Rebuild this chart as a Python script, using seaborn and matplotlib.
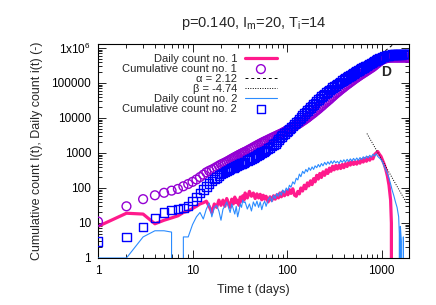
import matplotlib
matplotlib.use('Agg')
import matplotlib.pyplot as plt
import seaborn as sns
import numpy as np
from matplotlib.ticker import LogLocator, NullFormatter

# Values
first_days = list(range(1, 20))
mid_days = [20, 21, 22, 23, 24, 25, 26, 27, 28, 29, 30, 31, 32, 33, 34, 35, 36,
            38, 40, 42, 44, 46, 48, 50, 52, 54, 56, 58, 60,
            63, 66, 69, 72, 75, 78, 81, 84, 87, 90,
            94, 98, 102, 106, 110,
            115, 120, 125, 130, 135, 140,
            146, 152, 158, 164, 170,
            177, 184, 191, 198,
            206, 214, 222, 231, 240, 250, 260, 270, 281, 292, 303, 315, 328, 341, 355, 369, 384, 399,
            415, 432, 449, 467, 486, 505, 525, 546, 568, 591, 615, 640, 665, 692, 720, 749, 779,
            810, 842, 876, 911, 947, 985]
late_days = [1024, 1065, 1108, 1152, 1198, 1246, 1296, 1348, 1402, 1458, 1516, 1577, 1640,
             1706, 1774, 1845, 1919, 1950]

daily_1_days = first_days + mid_days + [1024, 1065, 1108, 1152, 1198, 1246, 1270, 1290]
daily_1 = [8, 19, 18, 9.5, 12, 14, 16, 20, 22, 26, 30, 35, 38, 42, 30, 20, 35, 28, 45,
           32, 45, 30, 50, 36, 28, 48, 35, 55, 38, 45, 32, 55, 42, 60, 45, 72,
           52, 80, 58, 72, 50, 68, 52, 66, 46, 62, 48, 58,
           40, 56, 44, 60, 48, 64, 52, 72, 56, 78,
           60, 82, 64, 90, 70,
           95, 62, 58, 80, 68, 100,
           82, 120, 95, 140, 115,
           160, 125, 185, 150,
           230, 180, 260, 200, 290, 230, 330, 260, 370, 300, 420, 330, 440, 350, 450, 360, 470, 380,
           500, 410, 540, 450, 580, 470, 560, 480, 600, 510, 650, 550, 700, 580, 740, 620, 760,
           680, 900, 1000, 1100, 920, 800,
           620, 480, 340, 220, 120, 45, 10, 0]

daily_2_days = first_days + mid_days + [1024, 1065, 1108, 1152, 1198, 1246, 1296, 1348, 1402,
                                        1458, 1516, 1540, 1560, 1580, 1620, 1660, 1700, 1730]
daily_2 = [1, 1, 4, 6, 6, 5.5, 0, 4, 4, 9, 15, 20, 13, 25, 37, 15, 28, 32, 22,
           12, 25, 30, 40, 28, 20, 35, 25, 18, 30, 15, 22, 35, 28, 45, 38, 40,
           25, 35, 22, 40, 30, 42, 28, 40, 24, 35, 42, 30,
           45, 56, 40, 62, 50, 70, 58, 75, 62, 88,
           72, 100, 85, 120, 105,
           150, 130, 190, 170, 250, 210,
           300, 260, 340, 290, 380,
           320, 400, 340, 430,
           380, 470, 400, 500, 430, 540, 460, 560, 480, 590, 500, 600, 520, 580, 500, 620, 540, 640,
           550, 660, 570, 680, 590, 700, 610, 720, 620, 740, 650, 780, 680, 820, 720, 860, 760,
           920, 820, 950, 800, 720, 650,
           550, 420, 330, 260, 190, 130, 85, 60, 40, 28, 15, 5, 0, 8, 3, 0, 4, 0]

cum_days = first_days + mid_days + late_days
cum_1 = [11, 30, 48, 62, 73, 84, 94, 112, 130, 150, 175, 205, 240, 280, 310, 335, 365, 400, 435,
         470, 500, 530, 565, 600, 640, 680, 720, 760, 800, 840, 880, 920, 960, 1000, 1040, 1080,
         1170, 1260, 1350, 1450, 1550, 1650, 1750, 1850, 1950, 2050, 2150, 2250,
         2400, 2550, 2700, 2850, 3000, 3150, 3300, 3450, 3600, 3800,
         4050, 4300, 4550, 4850, 5100,
         5500, 5900, 6300, 6700, 7100, 7600,
         8200, 8800, 9500, 10200, 11000,
         12000, 13000, 14000, 15200,
         16600, 18000, 19600, 21500, 23500, 26000, 28500, 31000, 34000, 37500,
         41000, 45000, 49500, 54000, 59000, 64500, 70000, 76000, 83000, 90000,
         97000, 105000, 114000, 123000, 133000, 143000, 154000, 166000, 178000, 191000,
         204000, 219000, 235000, 252000, 270000, 290000, 315000, 345000, 375000, 410000, 440000,
         470000, 490000, 505000, 517000, 525000, 530000, 532000, 532000, 532000, 532000, 532000,
         532000, 532000, 532000, 532000, 532000, 532000, 532000]
cum_2 = [3, 4, 7.7, 13.7, 20, 23.5, 25, 27, 31, 42, 55, 72, 90, 110, 135, 160, 180, 200, 225,
         250, 270, 290, 310, 330, 350, 370, 390, 410, 430, 450, 465, 480, 500, 520, 540, 560,
         610, 660, 705, 750, 800, 850, 905, 960, 1020, 1080, 1150, 1220,
         1330, 1450, 1600, 1750, 1900, 2150, 2400, 2700, 3000, 3300,
         3650, 4000, 4400, 4850, 5300,
         5950, 6650, 7350, 8250, 9250, 10400,
         11800, 13300, 14800, 16300, 17900,
         19800, 22000, 24400, 26900,
         30300, 33500, 36800, 40500, 44500, 49000, 53500, 58000, 63000, 68000,
         73500, 79500, 86000, 93000, 100000, 108000, 117000, 126000, 135000, 145000,
         155000, 166000, 177000, 189000, 201000, 214000, 228000, 243000, 258000, 274000,
         291000, 310000, 330000, 350000, 372000, 395000, 420000, 447000, 475000, 500000, 525000,
         550000, 570000, 588000, 605000, 620000, 631000, 640000, 648000, 654000, 658000, 661000,
         663000, 664000, 665000, 665000, 665000, 665000, 665000]

# power-law guide lines
alpha_exp, alpha_amp, alpha_range = 2.12, 0.301, (700, 1950)
beta_exp, beta_amp, beta_range = -4.74, 10 ** 17.042, (700, 1800)

x_ticks = [1, 10, 100, 1000]
x_tick_labels = ['1', '10', '100', '1000']
y_ticks = [1, 10, 100, 1000, 10000, 100000, 1000000]
y_tick_labels = ['1', '10', '100', '1000', '10000', '100000', r'1x10$^{\mathrm{6}}$']

PINK = '#ff1a8c'
VIOLET = '#9400d3'
BLUE = '#0000ff'
LIGHTBLUE = '#2b8cff'

sns.set_theme(style='ticks')
plt.rcParams['font.family'] = ['Liberation Sans', 'DejaVu Sans']
plt.rcParams['mathtext.fontset'] = 'custom'
plt.rcParams['mathtext.rm'] = 'Liberation Sans'
plt.rcParams['mathtext.it'] = 'Liberation Sans:italic'

fig = plt.figure(figsize=(4.36, 3.05), dpi=100)
ax = fig.add_axes([98 / 436, 47 / 305, 311 / 436, 214 / 305])

sns.lineplot(x=daily_1_days, y=daily_1, color=PINK, lw=2.3, estimator=None, sort=False,
             label='Daily count no. 1', ax=ax, zorder=2)
sns.scatterplot(x=cum_days, y=cum_1, marker='o', s=40, fc='none', ec=VIOLET, linewidth=1.0,
                label='Cumulative count no. 1', ax=ax, zorder=3)

xa = np.geomspace(*alpha_range, 50)
sns.lineplot(x=xa, y=alpha_amp * xa ** alpha_exp, color='black', lw=0.7, ls=(0, (3, 3)),
             estimator=None, label='\u03b1 = 2.12', ax=ax, zorder=4)
xb = np.geomspace(*beta_range, 50)
sns.lineplot(x=xb, y=beta_amp * xb ** beta_exp, color='black', lw=0.7, ls=(0, (1, 1.5)),
             estimator=None, label='\u03b2 = -4.74', ax=ax, zorder=5)

sns.lineplot(x=daily_2_days, y=daily_2, color=LIGHTBLUE, lw=0.8, estimator=None, sort=False,
             label='Daily count no. 2', ax=ax, zorder=6)
sns.scatterplot(x=cum_days, y=cum_2, marker='s', s=38, fc='none', ec=BLUE, linewidth=1.0,
                label='Cumulative count no. 2', ax=ax, zorder=7)

ax.set_xscale('log')
ax.set_yscale('log')
ax.set_xlim(1, 1950)
ax.set_ylim(1, 1.3e6)

ax.set_xticks(x_ticks)
ax.set_xticklabels(x_tick_labels)
ax.set_yticks(y_ticks)
ax.set_yticklabels(y_tick_labels)
ax.xaxis.set_minor_locator(LogLocator(base=10, subs=np.arange(2, 10), numticks=100))
ax.yaxis.set_minor_locator(LogLocator(base=10, subs=np.arange(2, 10), numticks=100))
ax.xaxis.set_minor_formatter(NullFormatter())
ax.yaxis.set_minor_formatter(NullFormatter())
ax.tick_params(which='both', direction='in', top=True, right=True, colors='black',
               width=0.6, labelsize=8.5)
ax.tick_params(which='major', length=5.5, pad=5)
ax.tick_params(which='minor', length=3)
for sp in ax.spines.values():
    sp.set_color('black')
    sp.set_linewidth(0.8)

ax.set_xlabel('Time t (days)', fontsize=9, labelpad=5)
ax.set_ylabel('Cumulative count I(t), Daily count i(t) (-)', fontsize=9, labelpad=6)
ax.set_title(r'p=0.140, I$_{\mathrm{m}}$=20, T$_{\mathrm{i}}$=14', fontsize=10.5, pad=12)
ax.text(1110, 2.1e5, 'D', fontsize=10, fontweight='bold', ha='center', va='center')

ax.legend(loc='upper right', bbox_to_anchor=(277 / 436, 1 - 54 / 305), bbox_transform=fig.transFigure,
          markerfirst=False, frameon=False, fontsize=8.0, handlelength=2.9, handletextpad=0.7,
          labelspacing=0.0, borderpad=0, borderaxespad=0, scatterpoints=1)

fig.savefig('out.png', dpi=100)
